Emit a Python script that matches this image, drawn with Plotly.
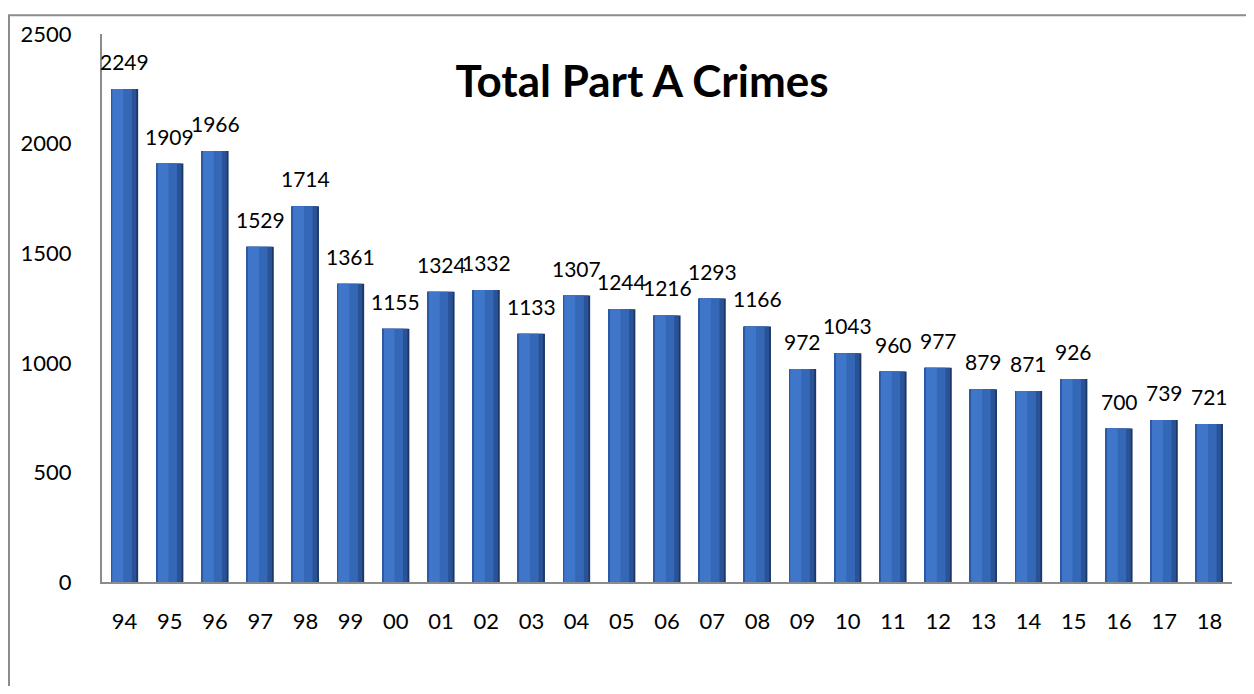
import plotly.graph_objects as go

years = ["94", "95", "96", "97", "98", "99", "00", "01", "02", "03", "04", "05", "06",
         "07", "08", "09", "10", "11", "12", "13", "14", "15", "16", "17", "18"]
crimes = [2249, 1909, 1966, 1529, 1714, 1361, 1155, 1324, 1332, 1133, 1307, 1244, 1216,
          1293, 1166, 972, 1043, 960, 977, 879, 871, 926, 700, 739, 721]
y_ticks = [0, 500, 1000, 1500, 2000, 2500]

FONT = "Lato"
W, H = 1238, 678
L, R, T, B = 94, 14, 20, 104
PW, PH = W - L - R, H - T - B

fig = go.Figure()

# layered bars (width, offset, colour) to mimic the left-to-right shaded look
layers = [(0.6, -0.3, "#1B3766"), (0.56, -0.3, "#2A5296"), (0.45, -0.29, "#3468B7"),
          (0.24, -0.27, "#3F76C9"), (0.02, -0.3, "#2C5AA2")]
idx = list(range(len(years)))
for w, o, c in layers:
    fig.add_trace(go.Bar(x=idx, y=crimes, width=w, offset=o,
                         marker=dict(color=c, line=dict(width=0)),
                         hoverinfo="skip", showlegend=False))

for i, v in enumerate(crimes):
    fig.add_annotation(x=i, y=v, text=str(v), showarrow=False, yanchor="bottom",
                       yshift=13, font=dict(family=FONT, size=21, color="#000000"))

fig.update_layout(
    barmode="overlay",
    width=W, height=H,
    margin=dict(l=L, r=R, t=T, b=B),
    paper_bgcolor="white", plot_bgcolor="white",
    title=dict(text="<b>Total Part A Crimes</b>", x=634 / W, xanchor="center",
               y=1 - 74 / H, yanchor="middle",
               font=dict(family=FONT, size=44, color="#000000")),
    xaxis=dict(tickmode="array", tickvals=idx, ticktext=years,
               range=[-0.5, len(years) - 0.5], showline=True, linecolor="#8C8C8C", linewidth=2,
               showgrid=False, zeroline=False, ticks="", ticklabelstandoff=19,
               tickfont=dict(family=FONT, size=22, color="#000000")),
    yaxis=dict(range=[0, 2500], tickvals=y_ticks, showline=True, linecolor="#8C8C8C",
               linewidth=2, showgrid=False, zeroline=False, ticks="", ticklabelstandoff=24,
               tickfont=dict(family=FONT, size=22, color="#000000")),
    shapes=[dict(type="rect", xref="paper", yref="paper",
                 x0=(1 - L) / PW, x1=(W + 40 - L) / PW, y0=-1.0, y1=1 + (T - 1) / PH,
                 line=dict(color="#8C8C8C", width=2), fillcolor="rgba(0,0,0,0)", layer="below")],
)

fig.write_html("out.html")
